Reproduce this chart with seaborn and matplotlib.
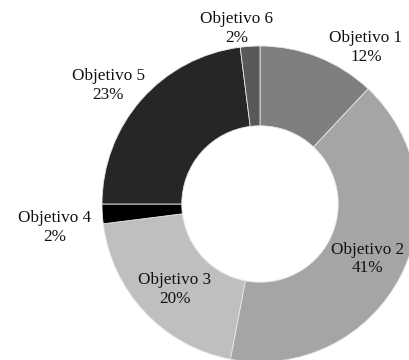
import matplotlib
matplotlib.use("Agg")
import matplotlib.pyplot as plt
import seaborn as sns

# Share of each objective (percent)
categories = ["Objetivo 1", "Objetivo 2", "Objetivo 3", "Objetivo 4", "Objetivo 5", "Objetivo 6"]
values = [12, 41, 20, 2, 23, 2]
colors_hex = ["#7f7f7f", "#a5a5a5", "#bfbfbf", "#000000", "#262626", "#595959"]

sns.set_theme(style="white")
plt.rcParams["font.family"] = ["Liberation Serif", "DejaVu Serif"]
palette = sns.color_palette(colors_hex)

fig = plt.figure(figsize=(4.09, 3.6), dpi=100)
# Donut is centred at (260, 204) px with a 158 px radius; it runs past the right and bottom edges
W, H = 409, 360
cx, cy, r = 260, 204, 158
ax = fig.add_axes([(cx - r) / W, (H - cy - r) / H, 2 * r / W, 2 * r / H])

wedges, _ = ax.pie(
    values,
    colors=palette,
    startangle=90,
    counterclock=False,
    radius=1.0,
    wedgeprops=dict(width=0.505, edgecolor="#e6e6e6", linewidth=0.6),
)
ax.set_aspect("equal")
ax.set_xlim(-1, 1)
ax.set_ylim(-1, 1)
ax.axis("off")

# Label placement (in radius units, relative to the centre)
label_pos = [(0.67, 0.99), (0.68, -0.35), (-0.54, -0.54), (-1.30, -0.15), (-0.96, 0.75), (-0.15, 1.11)]
for name, val, (lx, ly) in zip(categories, values, label_pos):
    ax.text(lx, ly, f"{name}\n{val}%", ha="center", va="center",
            fontsize=12.3, color="#111111", linespacing=1.2, clip_on=False)

fig.savefig("out.png", dpi=100)
